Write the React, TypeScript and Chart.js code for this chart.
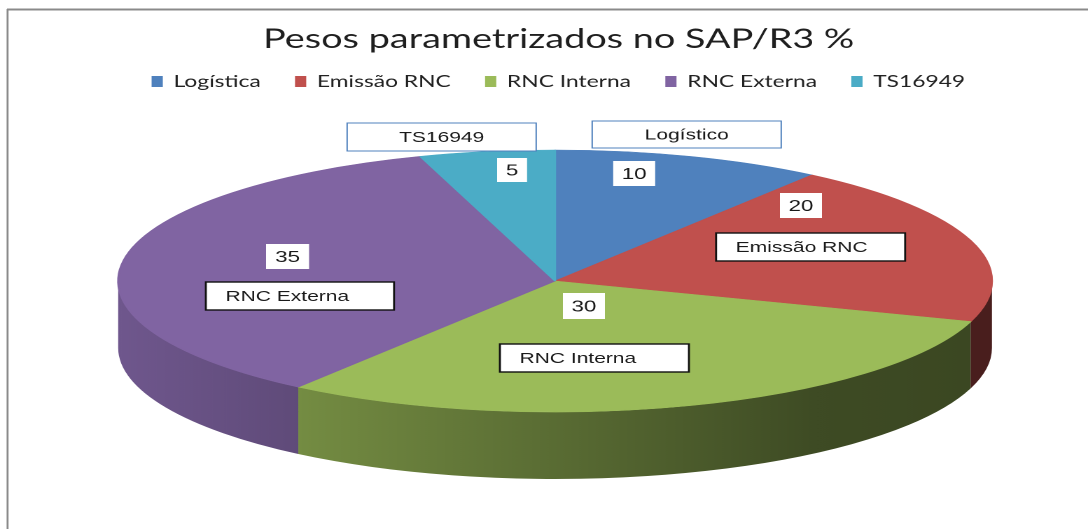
import React, { useEffect, useRef } from 'react';
import { Chart, registerables } from 'chart.js';

Chart.register(...registerables);

// ---------- data ----------
const categories = ['Logística', 'Emissão RNC', 'RNC Interna', 'RNC Externa', 'TS16949'];
const values = [10, 20, 30, 35, 5];
const nameLabels = ['Logístico', 'Emissão RNC', 'RNC Interna', 'RNC Externa', 'TS16949'];
const sliceColors = ['#4f81bd', '#c0504d', '#9bbb59', '#8064a2', '#4bacc6'];
const titleText = 'Pesos parametrizados no SAP/R3 %';

// ---------- layout (chart coordinates; the canvas is stretched horizontally like the reference) ----------
const CHART_W = 777;
const CHART_H = 529;
const VIEW_W = 1088;
const PIE = { cx: 396.4, cy: 281, rx: 312, ry: 131, depth: 67 };
const valueBoxes = [
  { x: 437.9, y: 161, w: 30, h: 25 },
  { x: 557, y: 193, w: 30, h: 25 },
  { x: 402, y: 293, w: 30, h: 26 },
  { x: 190, y: 244, w: 30.7, h: 25 },
  { x: 355, y: 158, w: 21.4, h: 24 },
];
const nameBoxes = [
  { x: 422.9, y: 121, w: 135, h: 27, border: '#4f81bd', lw: 1, align: 'center' },
  { x: 511.4, y: 233, w: 135, h: 28, border: '#111111', lw: 1.4, align: 'left' },
  { x: 357, y: 344, w: 135, h: 28, border: '#111111', lw: 1.4, align: 'left' },
  { x: 147, y: 282, w: 134.4, h: 28, border: '#111111', lw: 1.4, align: 'left' },
  { x: 247.9, y: 123, w: 135, h: 28, border: '#4f81bd', lw: 1, align: 'center' },
];

function shade(hex: string, f: number): string {
  const n = parseInt(hex.slice(1), 16);
  const r = Math.round(((n >> 16) & 255) * f);
  const g = Math.round(((n >> 8) & 255) * f);
  const b = Math.round((n & 255) * f);
  return `rgb(${r},${g},${b})`;
}

const framePlugin = {
  id: 'frame',
  beforeDraw(chart: any) {
    const ctx = chart.ctx;
    ctx.save();
    ctx.strokeStyle = '#8a8a8a';
    ctx.lineWidth = 2;
    ctx.beginPath();
    ctx.moveTo(5, 9.5);
    ctx.lineTo(CHART_W, 9.5);
    ctx.stroke();
    ctx.lineWidth = 1.4;
    ctx.beginPath();
    ctx.moveTo(5.4, 9);
    ctx.lineTo(5.4, CHART_H);
    ctx.stroke();
    ctx.restore();
  },
};

const pie3dPlugin = {
  id: 'pie3d',
  beforeDatasetsDraw(chart: any) {
    const ctx = chart.ctx;
    const meta = chart.getDatasetMeta(0);
    const { cx, cy, rx, ry, depth } = PIE;
    const ranges = [
      [0, Math.PI],
      [2 * Math.PI, 3 * Math.PI],
      [-2 * Math.PI, -Math.PI],
    ];
    meta.data.forEach((arc: any, i: number) => {
      const s = arc.startAngle;
      const e = arc.endAngle;
      const base = sliceColors[i];
      const grad = ctx.createLinearGradient(cx - rx, 0, cx + rx, 0);
      grad.addColorStop(0, shade(base, 0.87));
      grad.addColorStop(0.8, shade(base, 0.4));
      grad.addColorStop(1, shade(base, 0.38));
      ranges.forEach(([r0, r1]) => {
        const a1 = Math.max(s, r0);
        const a2 = Math.min(e, r1);
        if (a2 <= a1) return;
        ctx.save();
        ctx.fillStyle = grad;
        ctx.beginPath();
        ctx.ellipse(cx, cy, rx, ry, 0, a1, a2, false);
        ctx.lineTo(cx + rx * Math.cos(a2), cy + depth + ry * Math.sin(a2));
        ctx.ellipse(cx, cy + depth, rx, ry, 0, a2, a1, true);
        ctx.closePath();
        ctx.fill();
        ctx.restore();
      });
    });
    const el = meta.data[0];
    ctx.save();
    ctx.translate(cx, cy);
    ctx.scale(rx / el.outerRadius, ry / el.outerRadius);
    ctx.translate(-el.x, -el.y);
  },
  afterDatasetsDraw(chart: any) {
    const ctx = chart.ctx;
    ctx.restore();
    ctx.save();
    ctx.textBaseline = 'middle';
    // value boxes
    values.forEach((v, i) => {
      const b = valueBoxes[i];
      ctx.fillStyle = '#ffffff';
      ctx.fillRect(b.x, b.y, b.w, b.h);
      ctx.fillStyle = '#1a1a1a';
      ctx.font = '16px "Liberation Sans", Arial, sans-serif';
      ctx.textAlign = 'center';
      ctx.fillText(String(v), b.x + b.w / 2, b.y + b.h / 2 + 1);
    });
    // category name boxes
    nameLabels.forEach((t, i) => {
      const b = nameBoxes[i];
      ctx.fillStyle = '#ffffff';
      ctx.fillRect(b.x, b.y, b.w, b.h);
      ctx.strokeStyle = b.border;
      ctx.lineWidth = b.lw;
      ctx.strokeRect(b.x, b.y, b.w, b.h);
      ctx.fillStyle = '#1a1a1a';
      ctx.font = '15px "Liberation Sans", Arial, sans-serif';
      if (b.align === 'center') {
        ctx.textAlign = 'center';
        ctx.fillText(t, b.x + b.w / 2, b.y + b.h / 2 + 1);
      } else {
        ctx.textAlign = 'left';
        ctx.fillText(t, b.x + 14, b.y + b.h / 2 + 1);
      }
    });
    ctx.restore();
  },
};

export default function App() {
  const canvasRef = useRef<HTMLCanvasElement | null>(null);

  useEffect(() => {
    if (!canvasRef.current) return;
    const chart = new Chart(canvasRef.current, {
      type: 'pie',
      data: {
        labels: categories,
        datasets: [
          {
            data: values,
            backgroundColor: sliceColors,
            borderColor: sliceColors,
            borderWidth: 1,
            hoverOffset: 0,
            clip: false,
          } as any,
        ],
      },
      options: {
        responsive: false,
        animation: false,
        devicePixelRatio: 2,
        events: [],
        layout: { padding: { left: 21, top: 0, right: 0, bottom: 0 } },
        plugins: {
          title: {
            display: true,
            text: titleText,
            color: '#1f1f1f',
            font: { family: 'Lato', size: 27, weight: 'normal' },
            padding: { top: 23, bottom: -7 },
          },
          legend: {
            display: true,
            position: 'top',
            labels: {
              boxWidth: 7,
              boxHeight: 10,
              padding: 25,
              color: '#222222',
              font: { family: 'Lato', size: 16.3 },
            },
          },
          tooltip: { enabled: false },
        },
      } as any,
      plugins: [framePlugin, pie3dPlugin],
    });
    return () => chart.destroy();
  }, []);

  return (
    <div
      style={{
        position: 'fixed',
        left: 0,
        top: 0,
        width: VIEW_W,
        height: CHART_H,
        overflow: 'hidden',
        background: '#ffffff',
      }}
    >
      <canvas
        ref={canvasRef}
        width={CHART_W}
        height={CHART_H}
        style={{ display: 'block', width: VIEW_W + 'px', height: CHART_H + 'px' }}
      />
    </div>
  );
}
